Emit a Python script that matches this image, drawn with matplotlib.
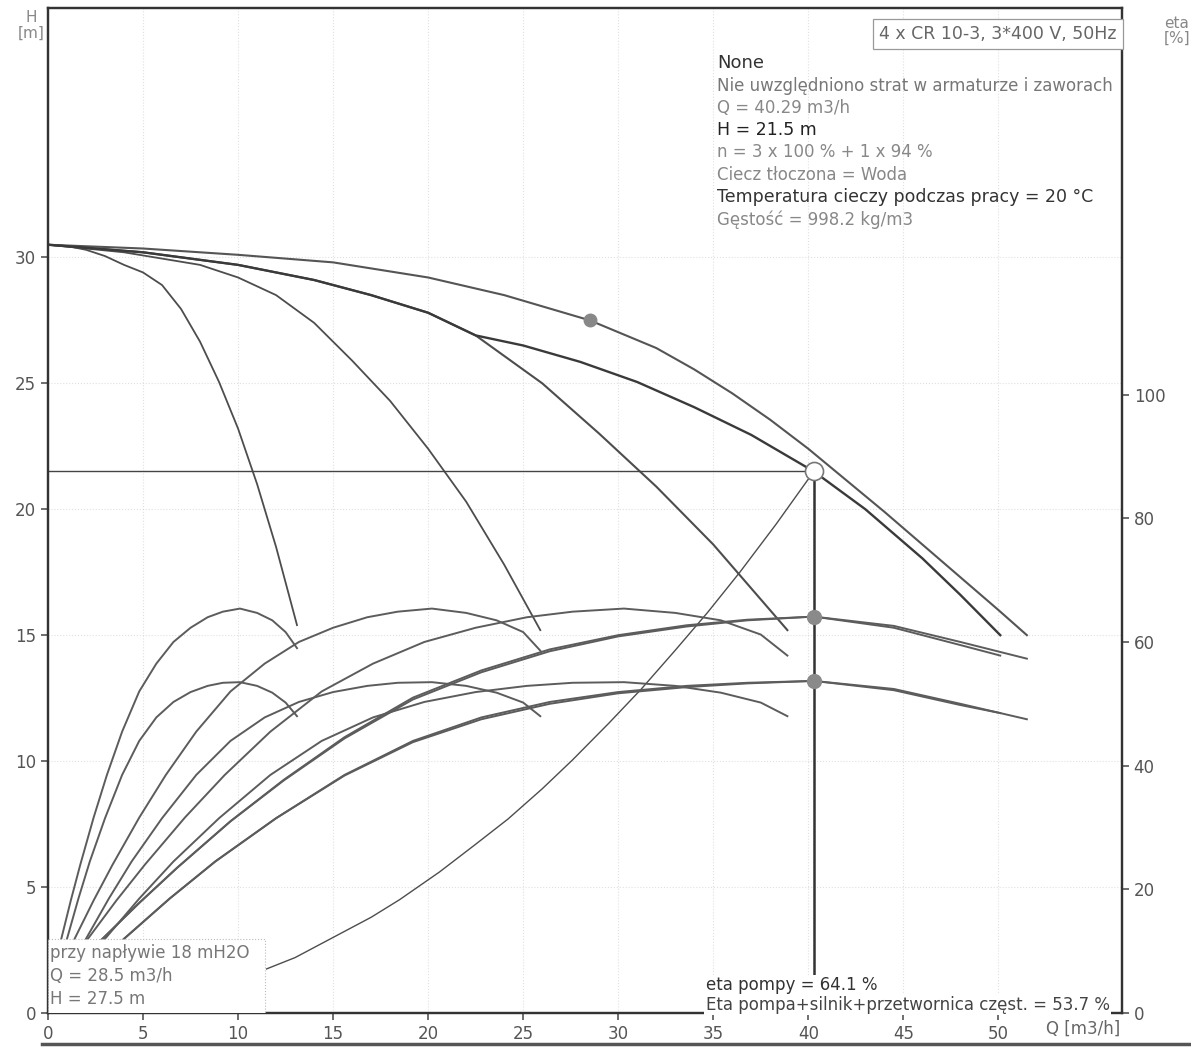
import matplotlib
matplotlib.use("Agg")
import matplotlib.pyplot as plt
from matplotlib.patches import Rectangle
from matplotlib.lines import Line2D

plt.rcParams['font.family'] = ['DejaVu Sans']

# pump head curves H [m] vs Q [m3/h]
q_h1 = [0, 1, 2, 3, 4, 5, 6, 7, 8, 9, 10, 11, 12, 13.1]
h_h1 = [30.5, 30.45, 30.3, 30.05, 29.7, 29.4, 28.9, 27.95, 26.65, 25.05, 23.2, 21.0, 18.5, 15.4]
q_h2 = [0, 4, 8, 10, 12, 14, 16, 18, 20, 22, 24, 25.9]
h_h2 = [30.5, 30.2, 29.7, 29.2, 28.5, 27.4, 25.9, 24.3, 22.4, 20.3, 17.8, 15.2]
q_h3 = [0, 5, 10, 14, 17, 20, 22.5, 26, 29, 32, 35, 38.9]
h_h3 = [30.5, 30.2, 29.7, 29.1, 28.5, 27.8, 26.9, 25.0, 23.0, 20.9, 18.6, 15.2]
q_h4 = [0, 5, 10, 15, 20, 24, 28.5, 32, 34, 36, 38, 40, 42, 44, 46, 48, 50, 51.5]
h_h4 = [30.5, 30.35, 30.1, 29.8, 29.2, 28.5, 27.5, 26.4, 25.55, 24.6, 23.55, 22.4, 21.15,
        19.9, 18.6, 17.3, 16.0, 15.0]
# 3 x 100 % + 1 x 94 %
q_h4b = [0, 5, 10, 14, 17, 20, 22.5, 25, 28, 31, 34, 37, 40.29, 43, 46, 48, 50.1]
h_h4b = [30.5, 30.2, 29.7, 29.1, 28.5, 27.8, 26.9, 26.5, 25.85, 25.05, 24.05, 22.95, 21.5,
         20.0, 18.05, 16.6, 15.0]

# efficiency [%], pump only (p) and pump+motor+converter (t)
e_pump = [0, 6.2, 12, 18.2, 24, 31.6, 38.5, 45.5, 52, 56.5, 60, 62.3, 64, 64.9, 65.4, 64.7,
          63.5, 61.6, 59]
q_p1 = [0, 0.35, 0.7, 1.2, 1.7, 2.4, 3.1, 3.9, 4.8, 5.7, 6.6, 7.5, 8.4, 9.2, 10.1, 11.0,
        11.8, 12.5, 13.1]
q_p2 = [0, 0.7, 1.4, 2.4, 3.4, 4.8, 6.2, 7.8, 9.6, 11.4, 13.2, 15.0, 16.8, 18.4, 20.2, 22.0,
        23.6, 25.0, 25.9]
e_p2 = [0, 6.2, 12, 18.2, 24, 31.6, 38.5, 45.5, 52, 56.5, 60, 62.3, 64, 64.9, 65.4, 64.7,
        63.5, 61.6, 58.6]
q_p3 = [0, 1.05, 2.1, 3.6, 5.1, 7.2, 9.3, 11.7, 14.4, 17.1, 19.8, 22.5, 25.2, 27.6, 30.3, 33.0,
        35.4, 37.5, 38.9]
e_p3 = [0, 6.2, 12, 18.2, 24, 31.6, 38.5, 45.5, 52, 56.5, 60, 62.3, 64, 64.9, 65.4, 64.7,
        63.5, 61.2, 57.8]
q_p4 = [0, 1.4, 2.8, 4.8, 6.8, 9.6, 12.4, 15.6, 19.2, 22.8, 26.4, 30.0, 33.6, 36.8, 40.29,
        44.5, 48.0, 51.5]
e_p4 = [0, 6, 11.8, 17.8, 23.5, 31, 37.7, 44.6, 51, 55.4, 58.8, 61.1, 62.7, 63.6, 64.1,
        62.6, 60.0, 57.3]
q_p4b = [0, 1.4, 2.8, 4.8, 6.8, 9.6, 12.4, 15.6, 19.2, 22.8, 26.4, 30.0, 33.6, 36.8, 40.29,
         44.5, 48.0, 50.1]
e_p4b = [0, 6, 11.8, 17.8, 23.5, 31, 37.6, 44.4, 50.7, 55.1, 58.5, 60.9, 62.5, 63.5, 64.1,
         62.3, 59.5, 57.8]

e_tot = [0, 6, 12, 18.5, 24.5, 31.5, 38.5, 44, 47.8, 50.3, 51.9, 52.9, 53.4, 53.5, 52.9,
         51.8, 50.2, 48]
q_t1 = [0, 0.5, 1.0, 1.6, 2.2, 3.0, 3.9, 4.8, 5.7, 6.6, 7.5, 8.4, 9.2, 10.1, 11.0, 11.8,
        12.5, 13.1]
q_t2 = [0, 1.0, 2.0, 3.2, 4.4, 6.0, 7.8, 9.6, 11.4, 13.2, 15.0, 16.8, 18.4, 20.2, 22.0, 23.6,
        25.0, 25.9]
q_t3 = [0, 1.5, 3.0, 4.8, 6.6, 9.0, 11.7, 14.4, 17.1, 19.8, 22.5, 25.2, 27.6, 30.3, 33.0,
        35.4, 37.5, 38.9]
q_t4 = [0, 2, 4, 6.4, 8.8, 12, 15.6, 19.2, 22.8, 26.4, 30, 33.6, 36.8, 40.29, 44.5, 48, 51.5]
e_t4 = [0, 6, 12, 18.5, 24.5, 31.5, 38.5, 44, 47.8, 50.3, 51.9, 52.9, 53.4, 53.7, 52.4, 50.0,
        47.5]
q_t4b = [0, 2, 4, 6.4, 8.8, 12, 15.6, 19.2, 22.8, 26.4, 30, 33.6, 36.8, 40.29, 44.5, 48, 50.1]
e_t4b = [0, 6, 12, 18.5, 24.5, 31.5, 38.4, 43.8, 47.5, 50.0, 51.7, 52.7, 53.3, 53.7, 52.2,
         49.8, 48.5]

# system curve
q_sys = [11.5, 13, 15, 17, 18.5, 20.6, 22.5, 24.2, 26, 27.6, 29.5, 31.2, 33, 34.7, 36.4,
         38.3, 40.29]
h_sys = [1.75, 2.2, 3.0, 3.8, 4.5, 5.6, 6.7, 7.7, 8.9, 10.05, 11.5, 12.85, 14.4, 15.9, 17.5,
         19.4, 21.5]

q_duty = 40.29
h_duty = 21.5
eta_pump = 64.1
eta_total = 53.7
q_inlet = 28.5
h_inlet = 27.5

fig = plt.figure(figsize=(11.91, 10.48), dpi=100)
ax = fig.add_axes([0.0403, 0.0334, 0.9017, 0.959])
ax2 = ax.twinx()

hc = '#4d4d4d'
ec = '#5c5c5c'

ax.plot(q_h1, h_h1, color=hc, lw=1.3)
ax.plot(q_h2, h_h2, color=hc, lw=1.3)
ax.plot(q_h3, h_h3, color=hc, lw=1.5)
ax.plot(q_h4, h_h4, color='#555555', lw=1.5)
ax.plot(q_h4b, h_h4b, color='#3a3a3a', lw=1.7)
ax.plot(q_sys, h_sys, color=hc, lw=1.0)

ax.plot([0, q_duty], [h_duty, h_duty], color='#444444', lw=1.0)
ax.plot([q_duty, q_duty], [0, h_duty], color='#333333', lw=1.8)
ax.plot(q_inlet, h_inlet, 'o', color='#888888', ms=9)
ax.plot(q_duty, h_duty, 'o', mfc='white', mec='#777777', ms=13, mew=1.2, zorder=5)

eta_lines = [(q_p1, e_pump), (q_t1, e_tot), (q_p2, e_p2), (q_t2, e_tot),
             (q_p3, e_p3), (q_t3, e_tot), (q_p4, e_p4), (q_t4, e_t4),
             (q_p4b, e_p4b), (q_t4b, e_t4b)]
for q, e in eta_lines:
    ax2.plot(q, e, color=ec, lw=1.4)
ax2.plot(q_duty, eta_pump, 'o', color='#8a8a8a', ms=10)
ax2.plot(q_duty, eta_total, 'o', color='#8a8a8a', ms=10)

h_top = 39.9
ax.set_xlim(0, 56.5)
ax.set_ylim(0, h_top)
ax2.set_ylim(0, h_top * 100 / 24.55)
ax.set_xticks(range(0, 55, 5))
ax.set_yticks(range(0, 35, 5))
ax2.set_yticks(range(0, 120, 20))

for a in (ax, ax2):
    for s in a.spines.values():
        s.set_linewidth(1.6)
        s.set_color('#333333')
ax.tick_params(colors='#555555', labelsize=12, length=5, width=1.2)
ax2.tick_params(colors='#555555', labelsize=12, length=5, width=1.2)

ax.grid(True, color='#cccccc', ls=':', lw=0.8, alpha=0.6)

# white patch under the inlet note
ax2.add_patch(Rectangle((0, 0), 11.4, 2.95, transform=ax.transData,
                        facecolor='white', edgecolor='#bbbbbb', ls=':', lw=0.8, zorder=6))
ax2.text(0.1, 2.75, 'przy napływie 18 mH2O\nQ = 28.5 m3/h\nH = 27.5 m',
         transform=ax.transData, fontsize=12, color='#777777', va='top',
         linespacing=1.35, zorder=7)

box = dict(facecolor='white', edgecolor='none', pad=1)
ax2.text(34.6, 1.1, 'eta pompy = 64.1 %', transform=ax.transData,
         fontsize=12, color='#333333', va='center', bbox=box, zorder=7)
ax2.text(34.6, 0.33, 'Eta pompa+silnik+przetwornica częst. = 53.7 %',
         transform=ax.transData, fontsize=12, color='#444444', va='center', bbox=box, zorder=7)

info = [('None', '#333333', 13),
        ('Nie uwzględniono strat w armaturze i zaworach', '#777777', 12),
        ('Q = 40.29 m3/h', '#888888', 12),
        ('H = 21.5 m', '#222222', 12.5),
        ('n = 3 x 100 % + 1 x 94 %', '#888888', 12),
        ('Ciecz tłoczona = Woda', '#888888', 12),
        ('Temperatura cieczy podczas pracy = 20 °C', '#333333', 12.5),
        ('Gęstość = 998.2 kg/m3', '#888888', 12)]
y0 = 0.948
for txt, col, fs in info:
    fig.text(0.602, y0, txt, fontsize=fs, color=col, va='top')
    y0 -= 0.0212

fig.text(0.9375, 0.9675, '4 x CR 10-3, 3*400 V, 50Hz', fontsize=12.5, color='#666666',
         ha='right', va='center',
         bbox=dict(boxstyle='square,pad=0.35', facecolor='white', edgecolor='#999999', lw=0.9))

fig.text(0.026, 0.99, 'H\n[m]', fontsize=11, color='#888888', ha='center', va='top',
         linespacing=1.0)
fig.text(0.988, 0.985, 'eta\n[%]', fontsize=11, color='#888888', ha='center', va='top',
         linespacing=1.0)
fig.text(0.941, 0.01, 'Q [m3/h]', fontsize=12, color='#666666', ha='right', va='bottom')

fig.add_artist(Line2D([0.035, 1.0], [0.0035, 0.0035], color='#555555', lw=2.5))

fig.savefig('out.png', dpi=100)
